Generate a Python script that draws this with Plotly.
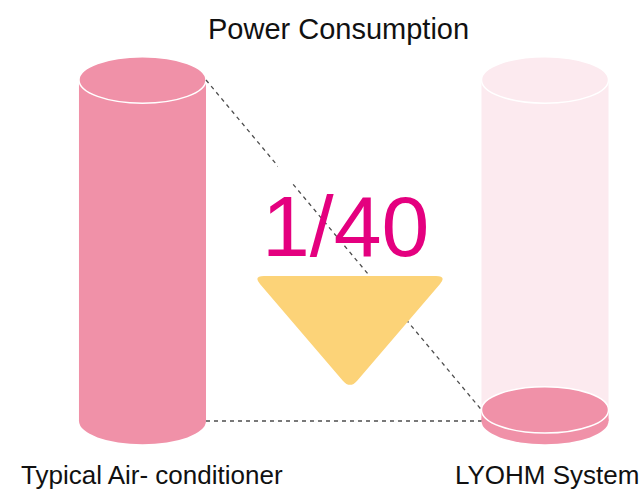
import plotly.graph_objects as go

# ---- data ----
categories = ["Typical Air- conditioner", "LYOHM System"]
values = [40, 1.3]          # relative power consumption (cylinder heights)
capacity = [40, 40]         # outline height of each cylinder
ratio_text = "1/40"
title_text = "Power Consumption"

# ---- styling ----
W, H = 643, 492
PINK = "#F091A8"
FADED = "#FCEAEF"
YELLOW = "#FCD378"
MAGENTA = "#E4007F"
FONT = "Liberation Sans, Arial, sans-serif"

xr = [-0.354, 1.2435]
yr = [-8.33, 49.38]
R = 0.1578     # cylinder half-width (x units)
RY = 2.72      # ellipse vertical semi-axis (y units)


def px(x, y):
    """pixel -> paper coords for decorative elements"""
    return x / W, 1 - y / H


fig = go.Figure()
shapes = []


def cylinder(cx, h, fill):
    shapes.append(dict(type="circle", xref="x", yref="y", x0=cx - R, x1=cx + R,
                       y0=-RY, y1=RY, fillcolor=fill, line=dict(width=0)))
    shapes.append(dict(type="rect", xref="x", yref="y", x0=cx - R, x1=cx + R,
                       y0=0, y1=h, fillcolor=fill, line=dict(width=0)))
    shapes.append(dict(type="circle", xref="x", yref="y", x0=cx - R, x1=cx + R,
                       y0=h - RY, y1=h + RY, fillcolor=fill,
                       line=dict(color="white", width=1.5)))


# faded outline of the second cylinder
cylinder(1, capacity[1], FADED)
# actual values
cylinder(0, values[0], PINK)
cylinder(1, values[1], PINK)

# dashed connectors
for y0, y1 in [(values[0], values[1]), (0, 0)]:
    shapes.append(dict(type="line", xref="x", yref="y", x0=0 + R, x1=1 - R,
                       y0=y0, y1=y1, line=dict(color="#4d4d4d", width=1.3, dash="4px,4px")))

# white box behind ratio text
bx0, by0 = px(278, 145)
bx1, by1 = px(410, 182)
shapes.append(dict(type="rect", xref="paper", yref="paper", x0=bx0, x1=bx1,
                   y0=by1, y1=by0, fillcolor="white", line=dict(width=0)))

# rounded down-triangle
verts = [(253, 276), (447, 276), (350, 389)]
r = 11


def towards(a, b, d):
    dx, dy = b[0] - a[0], b[1] - a[1]
    L = (dx * dx + dy * dy) ** 0.5
    return (a[0] + dx * d / L, a[1] + dy * d / L)


path = ""
n = len(verts)
for i in range(n):
    prev, cur, nxt = verts[i - 1], verts[i], verts[(i + 1) % n]
    p1 = towards(cur, prev, r)
    p2 = towards(cur, nxt, r)
    a = px(*p1); c = px(*cur); b = px(*p2)
    path += ("M" if i == 0 else "L") + f"{a[0]:.5f},{a[1]:.5f} "
    path += f"Q{c[0]:.5f},{c[1]:.5f} {b[0]:.5f},{b[1]:.5f} "
path += "Z"
shapes.append(dict(type="path", xref="paper", yref="paper", path=path,
                   fillcolor=YELLOW, line=dict(width=0)))

annotations = []
# ratio text
tx, ty = px(345, 226)
annotations.append(dict(text=ratio_text, xref="paper", yref="paper", x=tx, y=ty,
                        xanchor="center", yanchor="middle", showarrow=False,
                        font=dict(family=FONT, size=86, color=MAGENTA)))
# title
tx, ty = px(338, 29)
annotations.append(dict(text=title_text, xref="paper", yref="paper", x=tx, y=ty,
                        xanchor="center", yanchor="middle", showarrow=False,
                        font=dict(family=FONT, size=29, color="#111111")))
# category labels
label_x = [151.5, 546.5]
for i, cat in enumerate(categories):
    tx, _ = px(label_x[i], 0)
    annotations.append(dict(text=cat, xref="paper", yref="paper", x=tx, y=0,
                            xanchor="center", yanchor="bottom", showarrow=False,
                            font=dict(family=FONT, size=26, color="#111111")))

fig.update_layout(
    width=W, height=H, margin=dict(l=0, r=0, t=0, b=0),
    paper_bgcolor="white", plot_bgcolor="white",
    xaxis=dict(range=xr, visible=False, fixedrange=True),
    yaxis=dict(range=yr, visible=False, fixedrange=True),
    shapes=shapes, annotations=annotations, showlegend=False,
)

fig.write_html("out.html", config={"displayModeBar": False},
               post_script="document.body.style.margin='0';document.body.style.overflow='hidden';")
